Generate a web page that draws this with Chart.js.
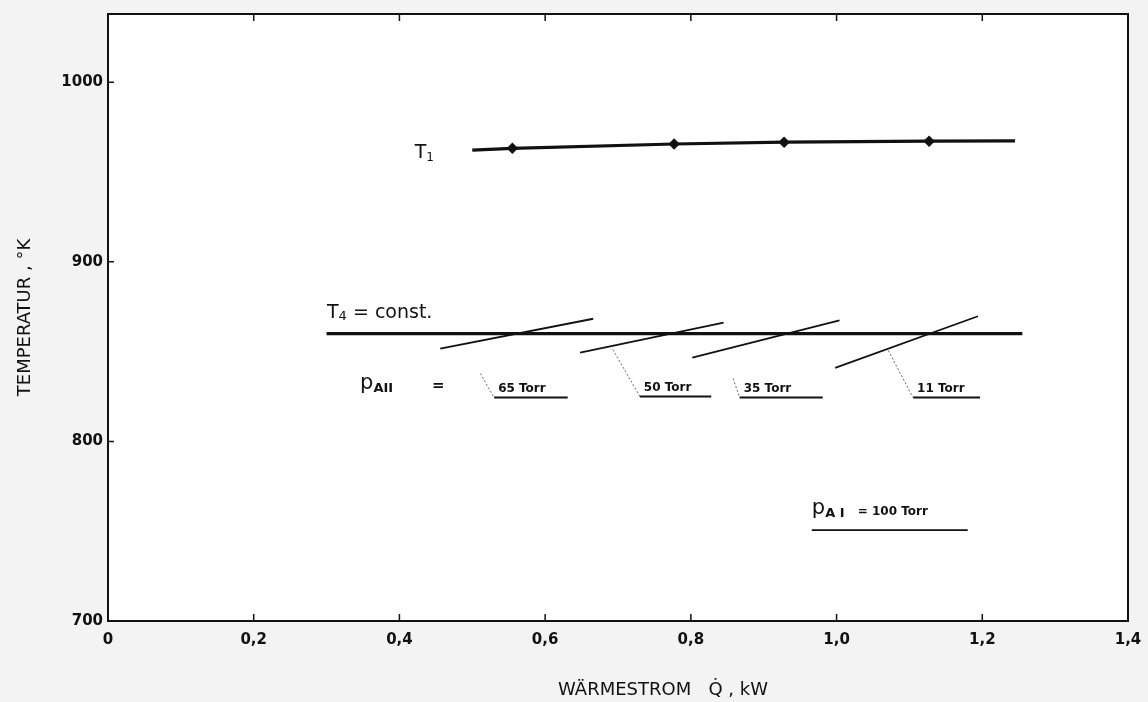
<!DOCTYPE html>
<html>
<head>
<meta charset="utf-8">
<script src="https://cdn.jsdelivr.net/npm/chart.js@4.4.1/dist/chart.umd.min.js"></script>
<style>
    html, body { margin: 0; padding: 0; background: #f3f3f3; }
    #wrap { width: 1148px; height: 702px; }
</style>
</head>
<body>
<div id="wrap"><canvas id="chart" width="1148" height="702"></canvas></div>
<script>
// T1 curve (Q in kW, T in K)
const t1Q = [0.5, 0.555, 0.777, 0.928, 1.127, 1.245];
const t1T = [962.2, 963.2, 965.6, 966.6, 967.2, 967.4];
const t1Marks = [false, true, true, true, true, false];

// T4 = const.
const t4Q = [0.3, 1.255];
const t4T = [860, 860];

// p_AII lines
const pressureLabels = ['65 Torr', '50 Torr', '35 Torr', '11 Torr'];
const pressQStart = [0.456, 0.648, 0.802, 0.998];
const pressQEnd = [0.666, 0.845, 1.004, 1.194];
const pressTStart = [851.7, 849.4, 846.7, 841.0];
const pressTEnd = [868.3, 866.1, 867.4, 869.7];

// leaders from the lines down to the underlined labels
const leaderQ = [[0.511, 0.530], [0.693, 0.730], [0.858, 0.867], [1.071, 1.105]];
const leaderT = [[837.8, 824.4], [851.1, 825.0], [835.0, 824.4], [850.6, 824.4]];
const underlineQEnd = [0.631, 0.828, 0.981, 1.197];

// p_AI label underline
const pA1Q = [0.966, 1.180];
const pA1T = [750.6, 750.6];

const xTicks = [0, 0.2, 0.4, 0.6, 0.8, 1.0, 1.2, 1.4];
const yTicks = [700, 800, 900, 1000];

const FONT = '"DejaVu Sans", "Liberation Sans", sans-serif';

function pts(qs, ts) {
    return qs.map((q, i) => ({ x: q, y: ts[i] }));
}

const datasets = [];

datasets.push({
    label: 'T1',
    data: pts(t1Q, t1T),
    borderColor: '#111',
    backgroundColor: '#111',
    borderWidth: 3.2,
    pointStyle: 'rectRot',
    pointRadius: t1Marks.map(m => m ? 3.5 : 0),
    showLine: true
});

datasets.push({
    label: 'T4',
    data: pts(t4Q, t4T),
    borderColor: '#111',
    borderWidth: 3.2,
    pointRadius: 0,
    showLine: true
});

pressureLabels.forEach((lab, i) => {
    datasets.push({
        label: lab,
        data: pts([pressQStart[i], pressQEnd[i]], [pressTStart[i], pressTEnd[i]]),
        borderColor: '#111',
        borderWidth: 1.8,
        pointRadius: 0,
        showLine: true
    });
    datasets.push({
        label: lab + ' leader',
        data: pts(leaderQ[i], leaderT[i]),
        borderColor: '#666',
        borderWidth: 1,
        borderDash: [2, 2],
        pointRadius: 0,
        showLine: true
    });
    datasets.push({
        label: lab + ' underline',
        data: pts([leaderQ[i][1], underlineQEnd[i]], [leaderT[i][1], leaderT[i][1]]),
        borderColor: '#111',
        borderWidth: 2,
        pointRadius: 0,
        showLine: true
    });
});

datasets.push({
    label: 'pA1 underline',
    data: pts(pA1Q, pA1T),
    borderColor: '#111',
    borderWidth: 1.8,
    pointRadius: 0,
    showLine: true
});

// text with subscripts: parts = [text, size, dy, bold]
function drawParts(ctx, parts, x, y) {
    let cx = x;
    parts.forEach(p => {
        ctx.font = (p[3] ? 'bold ' : '') + p[1] + 'px ' + FONT;
        ctx.fillText(p[0], cx, y + p[2]);
        cx += ctx.measureText(p[0]).width;
    });
}

const annotations = [
    { q: 0.421, t: 960.6, parts: [['T', 19, 0], ['1', 12, 5]] },
    { q: 0.3006, t: 871.7, parts: [['T', 19, 0], ['4', 13, 4], [' = const.', 19, 0]] },
    { q: 0.346, t: 831, parts: [['p', 21, -2], ['AII', 13, 3, true]] },
    { q: 0.4447, t: 831, parts: [['=', 15, 0, true]] },
    { q: 0.966, t: 761.7, parts: [['p', 21, -2], ['A I', 13, 3, true]] },
    { q: 1.029, t: 760.6, parts: [['= 100 Torr', 12, 0, true]] }
];

const decorPlugin = {
    id: 'decor',
    beforeDraw(chart) {
        const { ctx, chartArea } = chart;
        ctx.save();
        ctx.fillStyle = '#fff';
        ctx.fillRect(chartArea.left, chartArea.top, chartArea.right - chartArea.left, chartArea.bottom - chartArea.top);
        ctx.restore();
    },
    afterDatasetsDraw(chart) {
        const { ctx } = chart;
        const x = chart.scales.x, y = chart.scales.y;
        ctx.save();
        ctx.fillStyle = '#111';
        ctx.textBaseline = 'middle';
        ctx.textAlign = 'left';
        annotations.forEach(a => {
            drawParts(ctx, a.parts, x.getPixelForValue(a.q), y.getPixelForValue(a.t));
        });
        // pressure labels above their underlines
        pressureLabels.forEach((lab, i) => {
            ctx.font = 'bold 12px ' + FONT;
            ctx.fillText(lab, x.getPixelForValue(leaderQ[i][1]) + 4, y.getPixelForValue(leaderT[i][1]) - 9);
        });
        ctx.restore();
    },
    afterDraw(chart) {
        const { ctx, chartArea } = chart;
        const x = chart.scales.x, y = chart.scales.y;
        ctx.save();
        ctx.strokeStyle = '#111';
        ctx.lineWidth = 1.5;
        ctx.beginPath();
        xTicks.slice(1, -1).forEach(v => {
            const px = x.getPixelForValue(v);
            ctx.moveTo(px, chartArea.bottom);
            ctx.lineTo(px, chartArea.bottom - 7);
            ctx.moveTo(px, chartArea.top);
            ctx.lineTo(px, chartArea.top + 7);
        });
        yTicks.slice(1).forEach(v => {
            const py = y.getPixelForValue(v);
            ctx.moveTo(chartArea.left, py);
            ctx.lineTo(chartArea.left + 6, py);
        });
        ctx.stroke();

        // x axis title
        ctx.fillStyle = '#111';
        ctx.font = '18px ' + FONT;
        ctx.textAlign = 'center';
        ctx.textBaseline = 'middle';
        ctx.fillText('WÄRMESTROM   Q\u0307 , kW', 663, 690);
        ctx.restore();
    }
};

const ctx = document.getElementById('chart').getContext('2d');
new Chart(ctx, {
    type: 'scatter',
    data: { datasets: datasets },
    options: {
        responsive: false,
        animation: false,
        layout: { padding: 0 },
        plugins: {
            legend: { display: false },
            tooltip: { enabled: false }
        },
        scales: {
            x: {
                type: 'linear',
                position: 'bottom',
                min: 0,
                max: 1.4,
                afterBuildTicks: s => { s.ticks = xTicks.map(v => ({ value: v })); },
                afterFit: s => { s.height = 81; s.paddingLeft = 0; s.paddingRight = 0; },
                ticks: {
                    color: '#111',
                    padding: 10,
                    maxRotation: 0,
                    font: { family: FONT, size: 15, weight: 'bold' },
                    callback: v => v === 0 ? '0' : v.toFixed(1).replace('.', ',')
                },
                grid: { drawOnChartArea: false, drawTicks: false },
                border: { color: '#111', width: 2 }
            },
            x2: {
                type: 'linear',
                position: 'top',
                min: 0,
                max: 1.4,
                afterFit: s => { s.height = 13; s.paddingLeft = 0; s.paddingRight = 0; },
                ticks: { display: false },
                grid: { drawOnChartArea: false, drawTicks: false },
                border: { color: '#111', width: 2 }
            },
            y: {
                type: 'linear',
                position: 'left',
                min: 700,
                max: 1038,
                afterBuildTicks: s => { s.ticks = yTicks.map(v => ({ value: v })); },
                afterFit: s => { s.width = 108; },
                ticks: {
                    color: '#111',
                    padding: 5,
                    font: { family: FONT, size: 15, weight: 'bold' },
                    callback: v => String(v)
                },
                title: {
                    display: true,
                    text: 'TEMPERATUR , °K',
                    color: '#111',
                    font: { family: FONT, size: 18 },
                    padding: { top: 15 }
                },
                grid: { drawOnChartArea: false, drawTicks: false },
                border: { color: '#111', width: 2 }
            },
            y2: {
                type: 'linear',
                position: 'right',
                min: 700,
                max: 1038,
                afterFit: s => { s.width = 20; },
                ticks: { display: false },
                grid: { drawOnChartArea: false, drawTicks: false },
                border: { color: '#111', width: 2 }
            }
        }
    },
    plugins: [decorPlugin]
});
</script>
</body>
</html>
